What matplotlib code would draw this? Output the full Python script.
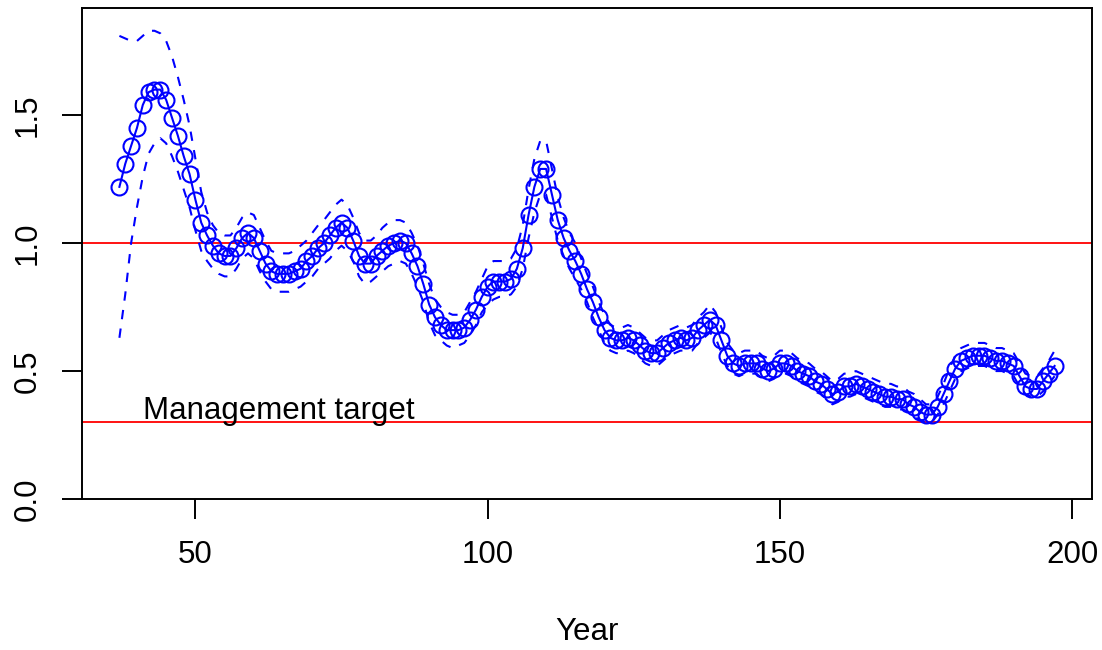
import numpy as np
import matplotlib
matplotlib.use("Agg")
from matplotlib import pyplot as plt

plt.rcParams['font.family'] = ['Liberation Sans', 'DejaVu Sans']

years = np.arange(37, 198)

ratio = [1.22, 1.31, 1.38, 1.45, 1.54, 1.59, 1.60, 1.60, 1.56, 1.49,
         1.42, 1.34, 1.27, 1.17, 1.08, 1.03, 0.99, 0.96, 0.95, 0.95,
         0.98, 1.02, 1.04, 1.02, 0.97, 0.92, 0.89, 0.88, 0.88, 0.88,
         0.89, 0.90, 0.93, 0.95, 0.98, 1.00, 1.03, 1.06, 1.08, 1.06,
         1.01, 0.95, 0.92, 0.92, 0.95, 0.97, 0.99, 1.00, 1.01, 1.00,
         0.96, 0.91, 0.84, 0.76, 0.71, 0.68, 0.66, 0.66, 0.66, 0.67,
         0.70, 0.74, 0.79, 0.83, 0.85, 0.85, 0.85, 0.86, 0.90, 0.98,
         1.11, 1.22, 1.29, 1.29, 1.19, 1.09, 1.02, 0.97, 0.93, 0.88,
         0.82, 0.77, 0.71, 0.66, 0.63, 0.62, 0.62, 0.63, 0.62, 0.60,
         0.58, 0.57, 0.57, 0.59, 0.61, 0.62, 0.63, 0.62, 0.63, 0.66,
         0.68, 0.70, 0.68, 0.62, 0.56, 0.53, 0.52, 0.53, 0.53, 0.53,
         0.51, 0.50, 0.51, 0.53, 0.53, 0.52, 0.50, 0.49, 0.48, 0.46,
         0.45, 0.43, 0.41, 0.42, 0.44, 0.44, 0.45, 0.44, 0.43, 0.42,
         0.41, 0.40, 0.40, 0.39, 0.39, 0.37, 0.36, 0.34, 0.33, 0.33,
         0.36, 0.41, 0.46, 0.51, 0.54, 0.55, 0.56, 0.56, 0.56, 0.55,
         0.54, 0.54, 0.53, 0.52, 0.48, 0.44, 0.43, 0.43, 0.46, 0.49,
         0.52]

upper = [1.81, 1.80, 1.79, 1.79, 1.81, 1.83, 1.83, 1.82, 1.79, 1.73,
         1.65, 1.56, 1.46, 1.33, 1.20, 1.12, 1.07, 1.04, 1.03, 1.03,
         1.06, 1.10, 1.12, 1.11, 1.06, 1.01, 0.97, 0.96, 0.96, 0.96,
         0.97, 0.99, 1.01, 1.04, 1.07, 1.09, 1.12, 1.15, 1.17, 1.15,
         1.10, 1.04, 1.01, 1.01, 1.03, 1.06, 1.08, 1.09, 1.09, 1.08,
         1.04, 0.99, 0.92, 0.84, 0.78, 0.75, 0.73, 0.72, 0.72, 0.73,
         0.77, 0.81, 0.86, 0.91, 0.93, 0.93, 0.93, 0.94, 0.98, 1.07,
         1.21, 1.33, 1.40, 1.40, 1.29, 1.18, 1.10, 1.04, 1.00, 0.94,
         0.88, 0.83, 0.77, 0.72, 0.68, 0.67, 0.67, 0.68, 0.67, 0.65,
         0.63, 0.62, 0.62, 0.64, 0.66, 0.67, 0.68, 0.67, 0.68, 0.71,
         0.73, 0.76, 0.73, 0.67, 0.61, 0.58, 0.57, 0.58, 0.58, 0.58,
         0.56, 0.55, 0.56, 0.58, 0.58, 0.57, 0.55, 0.54, 0.53, 0.51,
         0.50, 0.48, 0.46, 0.47, 0.49, 0.49, 0.50, 0.49, 0.48, 0.47,
         0.46, 0.45, 0.45, 0.44, 0.44, 0.42, 0.41, 0.39, 0.37, 0.37,
         0.40, 0.45, 0.51, 0.56, 0.59, 0.60, 0.61, 0.61, 0.61, 0.60,
         0.59, 0.59, 0.58, 0.57, 0.53, 0.49, 0.48, 0.48, 0.51, 0.54,
         0.58]

lower = [0.63, 0.80, 1.00, 1.14, 1.26, 1.35, 1.39, 1.41, 1.39, 1.34,
         1.28, 1.21, 1.14, 1.05, 0.97, 0.93, 0.90, 0.88, 0.87, 0.87,
         0.90, 0.94, 0.96, 0.94, 0.89, 0.85, 0.82, 0.81, 0.81, 0.81,
         0.82, 0.83, 0.85, 0.87, 0.90, 0.92, 0.94, 0.97, 0.99, 0.97,
         0.93, 0.87, 0.84, 0.85, 0.87, 0.89, 0.91, 0.92, 0.93, 0.92,
         0.88, 0.83, 0.77, 0.69, 0.64, 0.62, 0.60, 0.59, 0.60, 0.61,
         0.64, 0.68, 0.73, 0.76, 0.78, 0.79, 0.79, 0.80, 0.83, 0.90,
         1.02, 1.12, 1.19, 1.19, 1.10, 1.01, 0.95, 0.90, 0.86, 0.82,
         0.77, 0.71, 0.66, 0.61, 0.58, 0.57, 0.57, 0.58, 0.57, 0.55,
         0.53, 0.52, 0.52, 0.54, 0.56, 0.57, 0.58, 0.58, 0.58, 0.61,
         0.63, 0.65, 0.63, 0.57, 0.52, 0.49, 0.48, 0.49, 0.49, 0.49,
         0.47, 0.46, 0.47, 0.49, 0.49, 0.48, 0.46, 0.45, 0.44, 0.42,
         0.41, 0.39, 0.37, 0.38, 0.40, 0.40, 0.41, 0.40, 0.39, 0.38,
         0.37, 0.36, 0.36, 0.35, 0.35, 0.34, 0.32, 0.31, 0.30, 0.30,
         0.33, 0.37, 0.42, 0.47, 0.50, 0.51, 0.52, 0.52, 0.52, 0.51,
         0.50, 0.50, 0.49, 0.48, 0.44, 0.41, 0.40, 0.40, 0.42, 0.45,
         0.48]

ref_lines = [1.0, 0.3]
target_label = "Management target"

fig = plt.figure(figsize=(11.02, 6.5), dpi=100)
ax = fig.add_axes([82/1102, 1 - 499/650, 1010/1102, 491/650])

for v in ref_lines:
    ax.axhline(v, color='red', lw=1.3, zorder=1)

# confidence bounds, dashed like R lty=2
ax.plot(years, upper, color='blue', lw=1.5, ls=(0, (4.5, 4.5)))
ax.plot(years, lower, color='blue', lw=1.5, ls=(0, (4.5, 4.5)))
ax.plot(years, ratio, color='blue', lw=1.5, marker='o', ms=11.5,
        mfc='none', mec='blue', mew=1.5)

ax.text(41, 0.345, target_label, fontsize=22.5, va='center', ha='left')

ax.set_xlim(30.6, 203.4)
ax.set_ylim(0, 1.919)
ax.set_xticks([50, 100, 150, 200])
ax.set_yticks([0.0, 0.5, 1.0, 1.5])
ax.set_yticklabels(['0.0', '0.5', '1.0', '1.5'], rotation=90, va='center')
ax.tick_params(labelsize=22.5, length=14.5, width=1.4, direction='out')
ax.tick_params(axis='x', pad=15)
ax.tick_params(axis='y', pad=14)
for s in ax.spines.values():
    s.set_linewidth(1.4)

fig.text(587/1102, 1 - 632/650, 'Year', fontsize=22.5, ha='center', va='center')

fig.savefig('out.png', dpi=100)
